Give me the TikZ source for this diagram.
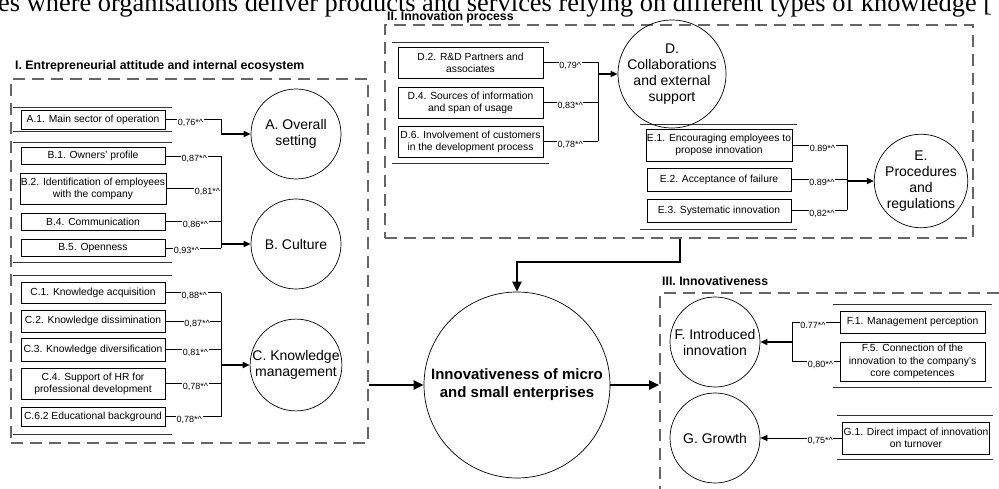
\documentclass[tikz,border=0pt]{standalone}
\usepackage{fontspec}
\setmainfont{Liberation Sans}
\newfontfamily\serifpart{Liberation Serif}
\usepackage{tikz}
\usetikzlibrary{positioning,arrows.meta,calc}
\newcommand{\caret}{\textasciicircum}
\newcommand{\boxfont}{\fontsize{10.3}{12.3}\selectfont}
\newcommand{\circfont}{\fontsize{14}{16}\selectfont}
\newcommand{\corefont}{\fontsize{15}{18}\selectfont\bfseries}
\newcommand{\lblfont}{\fontsize{9}{9}\selectfont}
\newcommand{\secfont}{\fontsize{12.3}{14}\selectfont\bfseries}
\tikzset{
  ind/.style={draw,line width=0.9pt,font=\boxfont,align=center,
              inner sep=1pt,fill=white},
  construct/.style={draw,circle,line width=0.7pt,font=\circfont,
              align=center,inner sep=0pt,minimum size=90pt},
  core/.style={construct,font=\corefont,minimum size=186pt},
  zone/.style={draw=black!60,line width=1.6pt,dash pattern=on 12pt off 7pt},
  sectitle/.style={font=\secfont,anchor=west,inner sep=2pt},
  grpline/.style={line width=0.8pt,black!80},
  link/.style={line width=0.7pt},
  lbl/.style={font=\lblfont,fill=white,inner sep=0.6pt,yshift=-3pt},
  thinarr/.style={link,-{Triangle[length=7pt,width=6pt]}},
  joinarr/.style={-{Triangle[length=7pt,width=6pt]},line width=1.6pt},
  mainarr/.style={-{Triangle[length=10pt,width=9pt]},line width=2.4pt},
}

\begin{document}
\begin{tikzpicture}[x=1pt,y=-1pt]
  \useasboundingbox (0,0) rectangle (999,489);
  % cut-off line of the page text above the figure
  \node[anchor=base west,inner sep=0pt,font=\serifpart\fontsize{26.4}{26}\selectfont]
        (capline) at (-2,12)
        {es where organisations deliver products and services relying on different types of knowledge [};

  % dashed zones and their titles
  \node[zone,minimum width=357pt,minimum height=364pt] (zI)   at (189.5,261) {};
  \node[zone,minimum width=588pt,minimum height=213pt] (zII)  at (679,131.5) {};
  \node[zone,minimum width=360pt,minimum height=227pt] (zIII) at (840,406.5) {};
  \node[sectitle] (tI)   at (13,66)  {I. Entrepreneurial attitude and internal ecosystem};
  \node[sectitle] (tII)  at (385,17) {II. Innovation process};
  \node[sectitle] (tIII) at (660,281) {III. Innovativeness};

  % group rules
  \foreach \y in {107,131,142,262,275,434}
    \draw[grpline] (13,\y) -- (172,\y);
  \foreach \y in {42,163}
    \draw[grpline] (392,\y) -- (549,\y);
  \foreach \y in {124,229}
    \draw[grpline] (640,\y) -- (797,\y);
  \foreach \y in {304,387}
    \draw[grpline] (833,\y) -- (992,\y);
  \foreach \y in {415,459}
    \draw[grpline] (837,\y) -- (993,\y);

  % I. indicators
  \node[ind,minimum width=144pt,minimum height=19pt] (a1)  at (93,119.5) {A.1. Main sector of operation};
  \node[ind,minimum width=144pt,minimum height=17pt] (b1)  at (93,156)   {B.1. Owners' profile};
  \node[ind,minimum width=144pt,minimum height=31pt] (b2)  at (93,188.5) {B.2. Identification of employees\\with the company};
  \node[ind,minimum width=144pt,minimum height=17pt] (b4)  at (93,221.5) {B.4. Communication};
  \node[ind,minimum width=144pt,minimum height=17pt] (b5)  at (93,248)   {B.5. Openness};
  \node[ind,minimum width=144pt,minimum height=21pt] (c1)  at (93,292.5) {C.1. Knowledge acquisition};
  \node[ind,minimum width=144pt,minimum height=22pt] (c2)  at (93,321)   {C.2. Knowledge dissimination};
  \node[ind,minimum width=144pt,minimum height=23pt] (c3)  at (93,349.5) {C.3. Knowledge diversification};
  \node[ind,minimum width=144pt,minimum height=31pt] (c4)  at (93,383.5) {C.4. Support of HR for\\professional development};
  \node[ind,minimum width=144pt,minimum height=19pt] (c62) at (93,416.5) {C.6.2 Educational background};

  % I. constructs
  \node[construct] (ca) at (296,134) {A. Overall\\setting};
  \node[construct] (cb) at (296,244) {B. Culture};
  \node[construct] (cc) at (296,365) {C. Knowledge\\management};

  % II. indicators and constructs
  \node[ind,minimum width=145pt,minimum height=31pt] (d2) at (470.5,62.5)  {D.2. R\&D Partners and\\associates};
  \node[ind,minimum width=145pt,minimum height=31pt] (d4) at (470.5,102.5) {D.4. Sources of information\\and span of usage};
  \node[ind,minimum width=145pt,minimum height=31pt] (d6) at (470.5,141.5) {D.6. Involvement of customers\\in the development process};
  \node[ind,minimum width=144pt,minimum height=32pt] (e1) at (719,145)   {E.1. Encouraging employees to\\propose innovation};
  \node[ind,minimum width=144pt,minimum height=23pt] (e2) at (719,179.5) {E.2. Acceptance of failure};
  \node[ind,minimum width=144pt,minimum height=23pt] (e3) at (719,210.5) {E.3. Systematic innovation};
  \node[construct] (cd) at (672,74)  {D.\\Collaborations\\and external\\support};
  \node[construct] (ce) at (921,181) {E.\\Procedures\\and\\regulations};

  % III. indicators and constructs
  \node[ind,minimum width=145pt,minimum height=22pt] (f1) at (912.5,322)   {F.1. Management perception};
  \node[ind,minimum width=145pt,minimum height=39pt] (f5) at (912.5,361.5) {F.5. Connection of the\\innovation to the company's\\core competences};
  \node[ind,minimum width=142pt,minimum height=32pt] (g1) at (916,438)     {G.1. Direct impact of innovation\\on turnover};
  \node[construct] (cf) at (715,342) {F. Introduced\\innovation};
  \node[construct] (cg) at (715,438) {G. Growth};

  % centre
  \node[core] (cm) at (517,385) {Innovativeness of micro\\and small enterprises};

  % joints of the loading brackets
  \coordinate (jI)  at (221,0);
  \coordinate (jD)  at (598,0);
  \coordinate (jE)  at (847,0);
  \coordinate (jF)  at (792,0);
  \coordinate (drop) at (680,262);

  % A
  \draw[link] (a1.east) -- node[lbl,pos=.45] {0,76*\caret} (a1.east -| jI);
  \draw[link] (a1.east -| jI) -- (ca.west -| jI);
  \draw[joinarr] (ca.west -| jI) -- (ca.west);
  % B
  \foreach \n/\p/\v in {b1/.52/{0,87},b2/.75/{0,81},b4/.54/{0,86},b5/.38/{0,93}}
    \draw[link] (\n.east) -- node[lbl,pos=\p] {\v*\caret} (\n.east -| jI);
  \draw[link] (b1.east -| jI) -- (b5.east -| jI);
  \draw[joinarr] (cb.west -| jI) -- (cb.west);
  % C
  \foreach \n/\p/\v in {c1/.52/{0,88},c2/.57/{0,87},c3/.54/{0,81},c4/.54/{0,78},c62/.43/{0,78}}
    \draw[link] (\n.east) -- node[lbl,pos=\p] {\v*\caret} (\n.east -| jI);
  \draw[link] (c1.east -| jI) -- (c62.east -| jI);
  \draw[joinarr] (cc.west -| jI) -- (cc.west);
  % D
  \draw[link] (d2.east) -- node[lbl,pos=.49] {0,79\caret} (d2.east -| jD);
  \foreach \n/\v in {d4/{0,83},d6/{0,78}}
    \draw[link] (\n.east) -- node[lbl,pos=.49] {\v*\caret} (\n.east -| jD);
  \draw[link] (d2.east -| jD) -- (d6.east -| jD);
  \draw[joinarr] (cd.west -| jD) -- (cd.west);
  % E
  \foreach \n/\v in {e1/{0.89},e2/{0.89},e3/{0,82}}
    \draw[link] (\n.east) -- node[lbl,pos=.55] {\v*\caret} (\n.east -| jE);
  \draw[link] (e1.east -| jE) -- (e3.east -| jE);
  \draw[joinarr] (ce.west -| jE) -- (ce.west);
  % F
  \draw[link] (f1.west) -- node[lbl,pos=.56] {0.77*\caret} (f1.west -| jF);
  \draw[link] (f5.west) -- node[lbl,pos=.40] {0,80*\caret} (f5.west -| jF);
  \draw[link] (f1.west -| jF) -- (f5.west -| jF);
  \draw[joinarr] (cf.east -| jF) -- (cf.east);
  % G
  \draw[thinarr] (g1.west) -- node[lbl,pos=.27] {0,75*\caret} (cg.east);

  % zone flows
  \draw[mainarr] (zI.east |- cm.west) -- (cm.west);
  \draw[mainarr] (cm.east) -- (cm.east -| zIII.west);
  \draw[mainarr] (zII.south -| drop) -- (drop) -| (cm.north);
\end{tikzpicture}
\end{document}
